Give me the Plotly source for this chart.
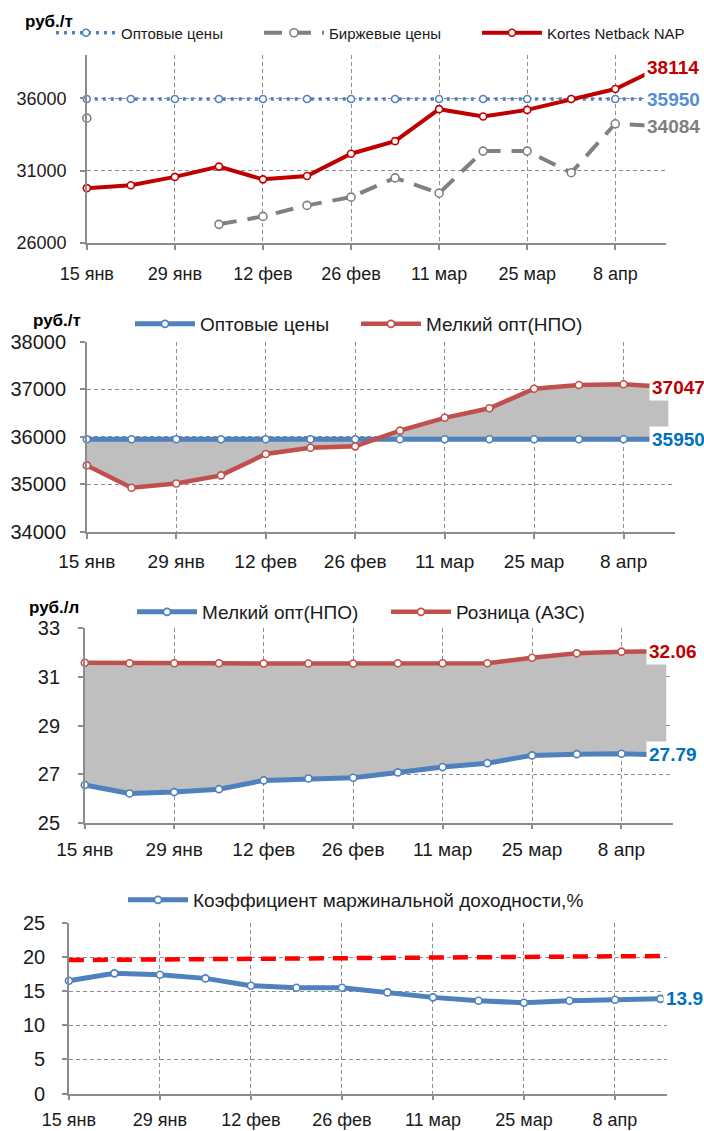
import plotly.graph_objects as go

# ---------------- data ----------------
dates = ["2016-01-15", "2016-01-22", "2016-01-29", "2016-02-05", "2016-02-12",
         "2016-02-19", "2016-02-26", "2016-03-04", "2016-03-11", "2016-03-18",
         "2016-03-25", "2016-04-01", "2016-04-08", "2016-04-15"]
tick_dates = ["2016-01-15", "2016-01-29", "2016-02-12", "2016-02-26",
              "2016-03-11", "2016-03-25", "2016-04-08"]
tick_labels = ["15 янв", "29 янв", "12 фев", "26 фев", "11 мар", "25 мар", "8 апр"]

# panel 1 (руб./т)
opt_p1 = [35950, 35950, 35950, 35950, 35950, 35950, 35950,
          35950, 35950, 35950, 35950, 35950, 35950, 35950]
birzh = [34630, None, None, 27290, 27840, 28600, 29170,
         30500, 29440, 32350, 32350, 30860, 34240, 34084]
kortes = [29790, 29990, 30570, 31280, 30400, 30630, 32170,
          33040, 35250, 34740, 35200, 35950, 36640, 38114]

# panel 2 (руб./т)
opt_p2 = [35950, 35950, 35950, 35950, 35950, 35950, 35950,
          35950, 35950, 35950, 35950, 35950, 35950, 35950]
npo_t = [35400, 34930, 35020, 35190, 35640, 35770, 35800,
         36130, 36400, 36600, 37010, 37090, 37105, 37047]

# panel 3 (руб./л)
npo_l = [26.55, 26.20, 26.26, 26.38, 26.74, 26.82, 26.85,
         27.07, 27.29, 27.45, 27.77, 27.82, 27.84, 27.79]
azs = [31.58, 31.56, 31.56, 31.56, 31.55, 31.55, 31.55,
       31.56, 31.56, 31.56, 31.79, 31.97, 32.04, 32.06]

# panel 4 (%)
coef = [16.57, 17.65, 17.45, 16.91, 15.83, 15.54, 15.54,
        14.85, 14.12, 13.63, 13.33, 13.63, 13.77, 13.9]
trend_dates = ["2016-01-15", "2016-04-16"]
trend_vals = [19.6, 20.2]

# ---------------- styling ----------------
W, H = 704, 1131
FONT = "Liberation Sans, Arial, sans-serif"
TXT = "#1a1a1a"
GRID = "#8C8C8C"
AXL = "#8C8C8C"
FILL = "#BFBFBF"
ITEMW = 60


def fx(p):
    return p / W


def fy(p):
    return 1 - p / H


fig = go.Figure()


def mk(color, size=7):
    return dict(symbol="circle", size=size, color="white", line=dict(color=color, width=1.6))


def band(lower, upper, xa, ya):
    # gray band between two series (closed polygon built from the data arrays)
    fig.add_trace(go.Scatter(x=dates + dates[::-1], y=upper + lower[::-1], mode="lines",
                             fill="toself", fillcolor=FILL, line=dict(width=0),
                             showlegend=False, hoverinfo="skip", xaxis=xa, yaxis=ya))


# panel 1
fig.add_trace(go.Scatter(x=dates, y=opt_p1, name="Оптовые цены", mode="lines+markers",
                         line=dict(color="#4F81BD", width=3.5, dash="3px,5px"), marker=mk("#4F81BD"),
                         xaxis="x", yaxis="y", legend="legend", cliponaxis=False))
fig.add_trace(go.Scatter(x=dates, y=birzh, name="Биржевые цены", mode="lines+markers",
                         line=dict(color="#808080", width=4, dash="18px,11px"), marker=mk("#808080", 8),
                         connectgaps=False, xaxis="x", yaxis="y", legend="legend5", cliponaxis=False))
fig.add_trace(go.Scatter(x=dates, y=kortes, name="Kortes Netback NAP", mode="lines+markers",
                         line=dict(color="#C00000", width=4), marker=mk("#C00000"),
                         xaxis="x", yaxis="y", legend="legend6", cliponaxis=False))

# panel 2
band(opt_p2, npo_t, "x2", "y2")
fig.add_trace(go.Scatter(x=dates, y=opt_p2, name="Оптовые цены", mode="lines+markers",
                         line=dict(color="#4F81BD", width=5), marker=mk("#4F81BD"),
                         xaxis="x2", yaxis="y2", legend="legend2", cliponaxis=False))
fig.add_trace(go.Scatter(x=dates, y=npo_t, name="Мелкий опт(НПО)", mode="lines+markers",
                         line=dict(color="#C0504D", width=4.5), marker=mk("#C0504D"),
                         xaxis="x2", yaxis="y2", legend="legend7", cliponaxis=False))

# panel 3
band(npo_l, azs, "x3", "y3")
fig.add_trace(go.Scatter(x=dates, y=npo_l, name="Мелкий опт(НПО)", mode="lines+markers",
                         line=dict(color="#4F81BD", width=5), marker=mk("#4F81BD"),
                         xaxis="x3", yaxis="y3", legend="legend3", cliponaxis=False))
fig.add_trace(go.Scatter(x=dates, y=azs, name="Розница (АЗС)", mode="lines+markers",
                         line=dict(color="#C0504D", width=4.5), marker=mk("#C0504D"),
                         xaxis="x3", yaxis="y3", legend="legend8", cliponaxis=False))

# panel 4
fig.add_trace(go.Scatter(x=trend_dates, y=trend_vals, mode="lines", showlegend=False,
                         line=dict(color="#FF0000", width=4.5, dash="15px,9px"),
                         xaxis="x4", yaxis="y4", hoverinfo="skip"))
fig.add_trace(go.Scatter(x=dates, y=coef, name="Коэффициент маржинальной доходности,%",
                         mode="lines+markers", line=dict(color="#4F81BD", width=5), marker=mk("#4F81BD"),
                         xaxis="x4", yaxis="y4", legend="legend4", cliponaxis=False))


def xax(dom, anchor, size, standoff):
    return dict(type="date", domain=dom, anchor=anchor, range=["2016-01-15", "2016-04-16"],
                tickvals=tick_dates, ticktext=tick_labels, showgrid=True, gridcolor=GRID,
                griddash="4px,3px", gridwidth=1, showline=True, linecolor=AXL, linewidth=1.5,
                ticks="outside", ticklen=5, tickcolor=AXL, tickwidth=1.5, zeroline=False,
                tickfont=dict(family=FONT, size=size, color=TXT), ticklabelstandoff=standoff,
                fixedrange=True, automargin=False)


def yax(dom, anchor, rng, tickvals, size, standoff):
    return dict(domain=dom, anchor=anchor, range=rng, tickvals=tickvals, tickformat="d",
                showgrid=True, gridcolor=GRID, griddash="4px,3px", gridwidth=1, showline=True,
                linecolor=AXL, linewidth=1.5, ticks="outside", ticklen=5, tickcolor=AXL,
                tickwidth=1.5, zeroline=False, tickfont=dict(family=FONT, size=size, color=TXT),
                ticklabelstandoff=standoff, fixedrange=True, automargin=False)


def leg(text_px, ypx, size):
    return dict(orientation="h", x=fx(text_px - ITEMW - 10), y=fy(ypx), xanchor="left",
                yanchor="middle", font=dict(family=FONT, size=size, color=TXT),
                bgcolor="rgba(0,0,0,0)", traceorder="normal", borderwidth=0, itemwidth=ITEMW)


fig.update_layout(
    width=W, height=H, margin=dict(l=0, r=0, t=0, b=0, autoexpand=False),
    paper_bgcolor="white", plot_bgcolor="white",
    font=dict(family=FONT, color=TXT),
    xaxis=xax([fx(86.8), fx(665.6)], "y", 18, 9),
    yaxis=yax([fy(243), fy(54.9)], "x", [26000, 39000], [26000, 31000, 36000], 18, 10),
    xaxis2=xax([fx(86.8), fx(674.7)], "y2", 19, 6),
    yaxis2=yax([fy(532), fy(341.7)], "x2", [34000, 38000], [34000, 35000, 36000, 37000, 38000], 20, 10),
    xaxis3=xax([fx(84.8), fx(672.6)], "y3", 19, 4),
    yaxis3=yax([fy(822.7), fy(628.3)], "x3", [25, 33], [25, 27, 29, 31, 33], 20, 14),
    xaxis4=xax([fx(68.9), fx(667)], "y4", 18, 4),
    yaxis4=yax([fy(1093.5), fy(923.3)], "x4", [0, 25], [0, 5, 10, 15, 20, 25], 20, 13),
    legend=leg(121, 33, 15),
    legend5=leg(329, 33, 15),
    legend6=leg(547, 33, 15),
    legend2=leg(200, 324, 19),
    legend7=leg(426, 324, 19),
    legend3=leg(202, 612, 19),
    legend8=leg(456, 612, 19),
    legend4=leg(193, 900, 19),
)


def end_label(xref, yref, val, color, shift, text):
    fig.add_annotation(x=dates[-1], y=val, xref=xref, yref=yref, text="<b>" + text + "</b>",
                       showarrow=False, xanchor="left", yanchor="middle", xshift=shift,
                       bgcolor="white", borderpad=2,
                       font=dict(family=FONT, size=19, color=color))


end_label("x", "y", kortes[-1], "#C00000", -15, str(kortes[-1]))
end_label("x", "y", opt_p1[-1], "#558ED5", -15, str(opt_p1[-1]))
end_label("x", "y", birzh[-1], "#7F7F7F", -15, str(birzh[-1]))
end_label("x2", "y2", npo_t[-1], "#C00000", -19, str(npo_t[-1]))
end_label("x2", "y2", opt_p2[-1], "#0070C0", -19, str(opt_p2[-1]))
end_label("x3", "y3", azs[-1], "#C00000", -20, f"{azs[-1]:.2f}")
end_label("x3", "y3", npo_l[-1], "#0070C0", -20, f"{npo_l[-1]:.2f}")
end_label("x4", "y4", coef[-1], "#0070C0", 2, f"{coef[-1]:.1f}")

for txt, xc, yc in [("руб./т", 49, 21), ("руб./т", 57, 320), ("руб./л", 54, 607)]:
    fig.add_annotation(x=fx(xc), y=fy(yc), xref="paper", yref="paper", text="<b>" + txt + "</b>",
                       showarrow=False, xanchor="center", yanchor="middle",
                       font=dict(family=FONT, size=17, color="#000000"))

fig.write_html("out.html", config={"displayModeBar": False},
               post_script="document.body.style.margin='0px';document.body.style.overflow='hidden';")
